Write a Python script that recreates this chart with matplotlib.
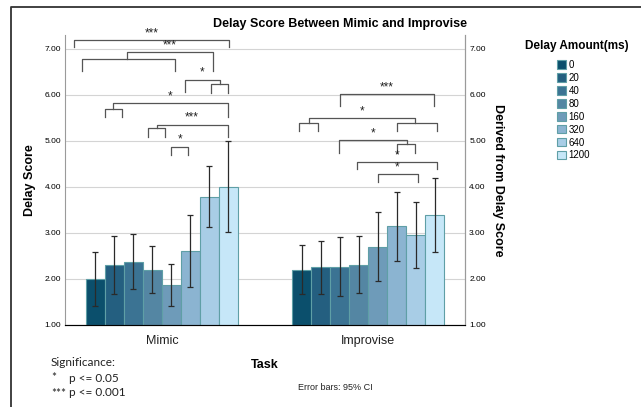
import matplotlib.pyplot as plt
from matplotlib.patches import Patch
from matplotlib.lines import Line2D
import numpy as np

plt.rcParams['font.family'] = ['Liberation Sans', 'DejaVu Sans']

# Data (means and 95% CI ends)
tasks = ['Mimic', 'Improvise']
delays = ['0', '20', '40', '80', '160', '320', '640', '1200']
mimic_mean = np.array([2.00, 2.31, 2.37, 2.20, 1.87, 2.60, 3.79, 4.00])
mimic_lo = np.array([1.41, 1.67, 1.78, 1.69, 1.41, 1.82, 3.13, 3.01])
mimic_hi = np.array([2.59, 2.93, 2.97, 2.72, 2.33, 3.38, 4.46, 5.00])
impro_mean = np.array([2.20, 2.25, 2.26, 2.30, 2.70, 3.14, 2.95, 3.40])
impro_lo = np.array([1.67, 1.67, 1.63, 1.69, 1.96, 2.38, 2.23, 2.59])
impro_hi = np.array([2.73, 2.82, 2.91, 2.93, 3.46, 3.90, 3.67, 4.20])
yticks = [1, 2, 3, 4, 5, 6, 7]

colors = ['#0b4f6c', '#245f80', '#3b7393', '#5486a3', '#6e9bb9',
          '#8bb4d1', '#a8cde6', '#c6e7f8']

# significance brackets: x1, x2, y, left leg end, right leg end, label
brackets = [
    (-0.427, 0.326, 7.19, 7.03, 7.03, '***'),
    (-0.171, 0.249, 6.93, 6.77, 6.51, '***'),
    (-0.389, 0.063, 6.77, 6.52, 6.52, ''),
    (0.113, 0.281, 6.33, 6.07, 6.23, '*'),
    (0.239, 0.319, 6.23, 6.05, 6.05, ''),
    (-0.239, 0.319, 5.82, 5.69, 5.52, '*'),
    (-0.276, -0.193, 5.69, 5.52, 5.52, ''),
    (-0.026, 0.319, 5.35, 5.28, 5.09, '***'),
    (-0.069, 0.013, 5.28, 5.09, 5.09, ''),
    (0.044, 0.128, 4.87, 4.70, 4.70, '*'),
    (0.863, 1.321, 6.01, 5.76, 5.76, '***'),
    (0.713, 1.230, 5.49, 5.38, 5.38, '*'),
    (0.666, 0.758, 5.38, 5.22, 5.22, ''),
    (1.138, 1.332, 5.38, 5.22, 5.22, ''),
    (0.860, 1.187, 5.01, 4.73, 4.93, '*'),
    (1.141, 1.228, 4.93, 4.73, 4.73, ''),
    (0.947, 1.332, 4.54, 4.39, 4.39, '*'),
    (1.046, 1.240, 4.28, 4.10, 4.10, '*'),
]

fig = plt.figure(figsize=(6.41, 4.07), dpi=100)
ax = fig.add_axes([0.1014, 0.2015, 0.624, 0.7125])

w = 0.0921
offs = (np.arange(len(delays)) - 3.5) * w
groups = [(mimic_mean, mimic_lo, mimic_hi), (impro_mean, impro_lo, impro_hi)]
for g, (m, lo, hi) in enumerate(groups):
    xs = g + offs
    ax.bar(xs, m, w, color=colors, edgecolor='#5f9fa6', linewidth=0.8, zorder=2)
    ax.errorbar(xs, m, yerr=[m - lo, hi - m], fmt='none', ecolor='#2a2a2a',
                elinewidth=0.9, capsize=2.2, capthick=0.9, zorder=3)

for x1, x2, y, yl, yr, lab in brackets:
    ax.plot([x1, x1, x2, x2], [yl, y, y, yr], color='#555555', lw=0.9,
            zorder=3, clip_on=False)
    if lab:
        ax.text((x1 + x2) / 2, y + 0.02, lab, ha='center', va='bottom',
                fontsize=8.5, color='#222222')

ax.set_xlim(-0.470, 1.470)
ax.set_ylim(1, 7.30)
ax.set_yticks(yticks)
ax.set_yticklabels(['%.2f' % v for v in yticks])
ax.set_xticks([0, 1])
ax.set_xticklabels(tasks, fontsize=9, color='#222222')
ax.tick_params(axis='both', length=0, pad=3)
ax.tick_params(axis='x', pad=7)
ax.tick_params(axis='y', labelsize=6)
ax.grid(axis='y', color='#d4d4d4', lw=0.8, zorder=0)
ax.set_axisbelow(True)
ax.spines['top'].set_visible(False)
for s in ['left', 'right']:
    ax.spines[s].set_color('#9a9a9a')
ax.spines['bottom'].set_color('#555555')

ax2 = ax.twinx()
ax2.set_ylim(1, 7.30)
ax2.set_yticks(yticks)
ax2.set_yticklabels(['%.2f' % v for v in yticks])
ax2.tick_params(axis='y', length=0, pad=3, labelsize=6)
ax2.spines['top'].set_visible(False)
ax2.spines['right'].set_color('#9a9a9a')
ax2.spines['left'].set_visible(False)

ax.set_ylabel('Delay Score', fontsize=9, fontweight='bold', labelpad=6)
ax2.set_ylabel('Derived from Delay Score', fontsize=9, fontweight='bold',
               rotation=270, labelpad=13)
ax.set_xlabel('Task', fontsize=9, fontweight='bold', labelpad=9)

fig.text(0.530, 1 - 24 / 407, 'Delay Score Between Mimic and Improvise',
         ha='center', va='center', fontsize=9, fontweight='bold')

# legend
fig.text(577 / 641, 1 - 46 / 407, 'Delay Amount(ms)', ha='center', va='center',
         fontsize=8.5, fontweight='bold')
handles = [Patch(facecolor=c, edgecolor='#5f9fa6', lw=0.8) for c in colors]
fig.legend(handles, delays, loc='upper left',
           bbox_to_anchor=(557 / 641, 1 - 60 / 407), frameon=False,
           fontsize=7, handlelength=0.95, handleheight=0.95,
           handletextpad=0.25, labelspacing=0.3, borderpad=0, borderaxespad=0)

# significance note and error bar note
sig = ['Significance:', '*', '***']
sig_p = ['', 'p <= 0.05', 'p <= 0.001']
for i, (a, b) in enumerate(zip(sig, sig_p)):
    yy = 1 - (363 + 15 * i) / 407
    fig.text(51 / 641, yy, a, family=['Lato', 'DejaVu Sans'], fontsize=8.5,
             va='center', color='#222222')
    if b:
        fig.text(69 / 641, yy, b, family=['Lato', 'DejaVu Sans'], fontsize=8.5,
                 va='center', color='#222222')
fig.text(298 / 641, 1 - 388 / 407, 'Error bars: 95% CI', fontsize=6.5,
         va='center', color='#222222')

# outer frame (left and top edges)
fig.add_artist(Line2D([11 / 641, 11 / 641, 1], [0, 1 - 7 / 407, 1 - 7 / 407],
                      color='#333333', lw=1.3))

fig.savefig('out.png', dpi=100)
